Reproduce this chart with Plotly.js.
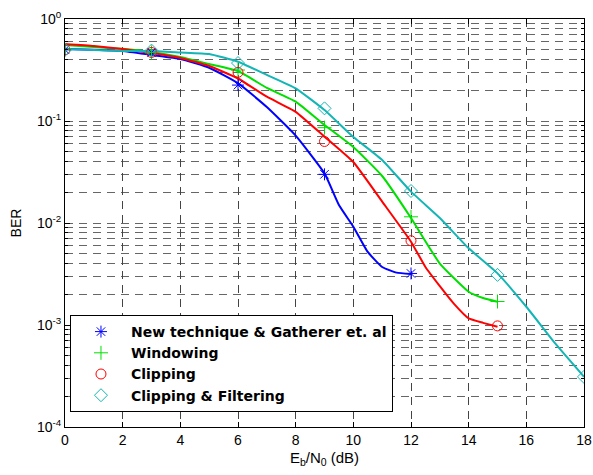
<!DOCTYPE html>
<html>
<head>
<meta charset="utf-8">
<script src="https://cdn.plot.ly/plotly-3.0.1.min.js"></script>
<style>html,body{margin:0;padding:0;background:#fff;}#plot{width:593px;height:475px;}</style>
</head>
<body>
<div id="plot"></div>
<script>
// Simulated BER curves (lines)
const xNewLine = [0,1,2,3,4,5,6,7,8,9,9.5,10,10.5,11,11.5,12];
const berNewLine = [0.508,0.50,0.486,0.444,0.406,0.333,0.235,0.137,0.072,0.0307,0.015,0.0092,0.0052,0.0037,0.00326,0.00316];
const xWindowLine = [0,1,2,3,4,5,6,7,8,9,10,11,12,13,14,14.5,15];
const berWindowLine = [0.556,0.53,0.51,0.475,0.424,0.362,0.309,0.211,0.155,0.0914,0.0556,0.0289,0.0112,0.0040,0.00212,0.00184,0.00169];
const xClipLine = [0,1,2,3,4,5,6,7,8,9,10,11,12,12.5,13,13.5,14,14.5,15];
const berClipLine = [0.569,0.544,0.508,0.464,0.415,0.346,0.261,0.173,0.123,0.0702,0.0396,0.0162,0.00656,0.0037,0.0024,0.0016,0.00116,0.00105,0.00096];
const xClipFiltLine = [0,1,2,3,4,5,6,7,8,9,10,11,12,13,14,15,16,17,18];
const berClipFiltLine = [0.508,0.496,0.486,0.486,0.47,0.454,0.381,0.283,0.209,0.128,0.0697,0.0415,0.0203,0.0112,0.00565,0.00321,0.00151,0.00066,0.000311];

// Marker points, every 3 dB
const xMark = [0,3,6,9,12,15,18];
const berNewMark = [0.5,0.47,0.225,0.030,0.0032];
const berWindowMark = [0.5,0.47,0.316,0.086,0.0115,0.0017];
const berClipMark = [0.5,0.47,0.30,0.063,0.0067,0.00098];
const berClipFiltMark = [0.5,0.49,0.37,0.133,0.0206,0.0031,0.00031];

const seriesNames = ['New technique &amp; Gatherer et. al','Windowing','Clipping','Clipping &amp; Filtering'];
const colors = ['#0000FF','#00E000','#FF0000','#13B5B5'];
const symbols = ['asterisk-open','cross-thin-open','circle-open','diamond-open'];
const lineX = [xNewLine, xWindowLine, xClipLine, xClipFiltLine];
const lineY = [berNewLine, berWindowLine, berClipLine, berClipFiltLine];
const marks = [berNewMark, berWindowMark, berClipMark, berClipFiltMark];

const yTickVals = [1e-4,1e-3,1e-2,1e-1,1];
const yTickText = ['10<sup>-4</sup>','10<sup>-3</sup>','10<sup>-2</sup>','10<sup>-1</sup>','10<sup>0</sup>'];
const xTickVals = [0,2,4,6,8,10,12,14,16,18];

const traces = [];
for (let i = 0; i < 4; i++) {
  traces.push({
    x: lineX[i], y: lineY[i], mode: 'lines', showlegend: false,
    line: {color: colors[i], width: 2, shape: 'spline', smoothing: 0.4}, hoverinfo: 'skip'
  });
}
for (let i = 0; i < 4; i++) {
  traces.push({
    x: xMark.slice(0, marks[i].length), y: marks[i], mode: 'markers', name: seriesNames[i],
    marker: {symbol: symbols[i], size: 10, color: colors[i], line: {color: colors[i], width: 1}}
  });
}

const fam = 'Liberation Sans, Arial, sans-serif';
const layout = {
  width: 593, height: 475,
  margin: {l: 65, r: 9, t: 19, b: 48},
  paper_bgcolor: '#fff', plot_bgcolor: '#fff',
  font: {family: fam, size: 14, color: '#000'},
  showlegend: true,
  legend: {
    x: 0.0096, y: 0.2745, xanchor: 'left', yanchor: 'top',
    bgcolor: '#fff', bordercolor: '#000', borderwidth: 1,
    font: {family: 'DejaVu Sans, sans-serif', size: 14, color: '#000', weight: 'bold'},
    itemwidth: 50, tracegroupgap: 0
  },
  xaxis: {
    range: [0, 18], tickvals: xTickVals,
    ticks: 'inside', ticklen: 5, tickcolor: '#000',
    showline: true, linecolor: '#000', linewidth: 1, mirror: 'ticks',
    showgrid: true, gridcolor: '#444', griddash: '8px,6px', gridwidth: 1,
    zeroline: false,
    tickfont: {family: fam, size: 14, color: '#000'},
    title: {text: 'E<sub>b</sub>/N<sub>0</sub> (dB)', font: {family: fam, size: 15, color: '#000'}, standoff: 5}
  },
  yaxis: {
    type: 'log', range: [-4, 0],
    tickvals: yTickVals, ticktext: yTickText,
    ticks: 'inside', ticklen: 5, tickcolor: '#000',
    showline: true, linecolor: '#000', linewidth: 1, mirror: 'ticks',
    showgrid: true, gridcolor: '#666', griddash: '8px,6px', gridwidth: 1,
    minor: {dtick: 'D1', ticks: 'inside', ticklen: 3, tickcolor: '#000', showgrid: true, gridcolor: '#666', griddash: '8px,6px', gridwidth: 1},
    zeroline: false,
    tickfont: {family: fam, size: 14, color: '#000'},
    title: {text: 'BER', font: {family: fam, size: 14, color: '#000'}, standoff: 12}
  }
};

Plotly.newPlot('plot', traces, layout, {displayModeBar: false, staticPlot: true});
</script>
</body>
</html>
